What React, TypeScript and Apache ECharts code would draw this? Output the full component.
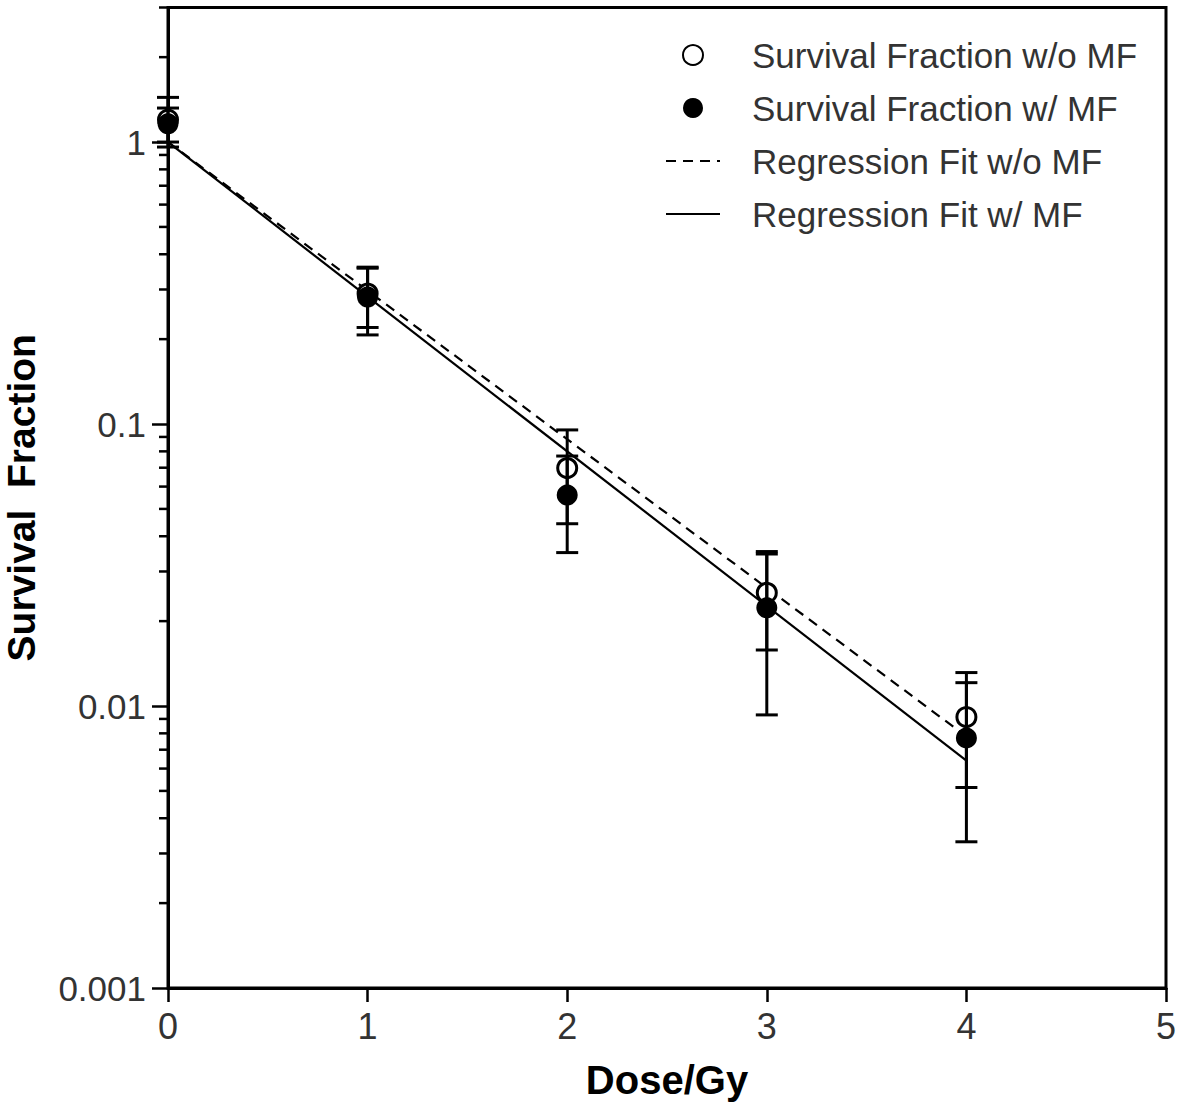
import React, { useEffect, useRef } from "react";
import * as echarts from "echarts";

const dose = [0, 1, 2, 3, 4];
const sfNoMF = [1.2, 0.29, 0.0698, 0.0252, 0.00914];
const errNoMF = [0.24, 0.07, 0.0255, 0.0094, 0.004];
const sfMF = [1.16, 0.282, 0.056, 0.0223, 0.0077];
const errMF = [0.16, 0.075, 0.021, 0.013, 0.0044];
const fitDose = [0, 4];
const fitNoMF = [1.0, 0.0078];
const fitMF = [1.0, 0.0064];
const yMinorTicks = [
  0.002, 0.003, 0.004, 0.005, 0.006, 0.007, 0.008, 0.009,
  0.02, 0.03, 0.04, 0.05, 0.06, 0.07, 0.08, 0.09,
  0.2, 0.3, 0.4, 0.5, 0.6, 0.7, 0.8, 0.9,
  2, 3,
];
const yTickLabels: Record<string, string> = { "-3": "0.001", "-2": "0.01", "-1": "0.1", "0": "1" };
const legendNames = [
  "Survival Fraction w/o MF",
  "Survival Fraction w/ MF",
  "Regression Fit w/o MF",
  "Regression Fit w/ MF",
];

const FONT = "'Liberation Sans', Arial, sans-serif";

function errorBar(params: any, api: any) {
  const x = api.value(0);
  const lo = api.value(1);
  const hi = api.value(2);
  const pLo = api.coord([x, lo]);
  const pHi = api.coord([x, hi]);
  const hw = 11;
  const st = { stroke: "#000", lineWidth: 3 };
  return {
    type: "group",
    children: [
      { type: "line", shape: { x1: pLo[0], y1: pLo[1], x2: pHi[0], y2: pHi[1] }, style: st },
      { type: "line", shape: { x1: pLo[0] - hw, y1: pLo[1], x2: pLo[0] + hw, y2: pLo[1] }, style: st },
      { type: "line", shape: { x1: pHi[0] - hw, y1: pHi[1], x2: pHi[0] + hw, y2: pHi[1] }, style: st },
    ],
  };
}

const hiddenSymbol = { color: "rgba(0,0,0,0)", borderWidth: 0, opacity: 0 };

export default function App() {
  const ref = useRef<HTMLDivElement>(null);
  useEffect(() => {
    document.body.style.margin = "0";
    const chart = echarts.init(ref.current!, null, { renderer: "svg" });
    const option: any = {
      animation: false,
      backgroundColor: "#fff",
      grid: {
        left: 168,
        right: 15,
        top: 7.5,
        bottom: 121,
        show: true,
        borderColor: "#000",
        borderWidth: 3,
        containLabel: false,
        outerBoundsMode: "none",
      },
      legend: {
        data: [
          { name: legendNames[0] },
          { name: legendNames[1] },
          { name: legendNames[2], itemStyle: hiddenSymbol },
          { name: legendNames[3], itemStyle: hiddenSymbol },
        ],
        orient: "vertical",
        left: 660,
        top: 30,
        itemWidth: 54,
        itemHeight: 20,
        itemGap: 13,
        selectedMode: false,
        textStyle: {
          fontFamily: FONT,
          fontSize: 35,
          color: "#333",
          lineHeight: 40,
          padding: [0, 0, 0, 27],
        },
      },
      xAxis: {
        type: "value",
        min: 0,
        max: 5,
        interval: 1,
        name: "Dose/Gy",
        nameLocation: "middle",
        nameGap: 72,
        nameTextStyle: { fontFamily: FONT, fontSize: 40, fontWeight: "bold", color: "#000" },
        axisLine: { show: true, onZero: false, lineStyle: { color: "#000", width: 3 } },
        axisTick: { show: true, length: 14, lineStyle: { color: "#000", width: 2.5 } },
        axisLabel: { fontFamily: FONT, fontSize: 36, color: "#333", margin: 20 },
        splitLine: { show: false },
      },
      yAxis: {
        type: "log",
        logBase: 10,
        min: 0.001,
        max: 3,
        name: "Survival  Fraction",
        nameLocation: "middle",
        nameGap: 127,
        nameTextStyle: { fontFamily: FONT, fontSize: 39, fontWeight: "bold", color: "#000" },
        axisLine: { show: true, lineStyle: { color: "#000", width: 3 } },
        axisTick: { show: true, length: 16, lineStyle: { color: "#000", width: 2.5 } },
        axisLabel: {
          fontFamily: FONT,
          fontSize: 35,
          color: "#333",
          margin: 22,
          showMaxLabel: false,
          formatter: (v: number) => {
            const l = Math.log10(v);
            const r = Math.round(l);
            if (Math.abs(l - r) < 1e-6) return yTickLabels[String(r)] ?? "";
            return "";
          },
        },
        splitLine: { show: false },
      },
      series: [
        {
          name: "Regression Fit w/o MF",
          type: "line",
          data: fitDose.map((d, i) => [d, fitNoMF[i]]),
          symbol: "none",
          lineStyle: { color: "#000", width: 2.2, type: [10, 7] },
          itemStyle: { color: "#000" },
          z: 2,
        },
        {
          name: "Regression Fit w/ MF",
          type: "line",
          data: fitDose.map((d, i) => [d, fitMF[i]]),
          symbol: "none",
          lineStyle: { color: "#000", width: 2.2 },
          itemStyle: { color: "#000" },
          z: 2,
        },
        {
          name: "Survival Fraction w/o MF",
          type: "scatter",
          data: dose.map((d, i) => [d, sfNoMF[i]]),
          symbol: "circle",
          symbolSize: 19,
          itemStyle: { color: "#fff", borderColor: "#000", borderWidth: 3, opacity: 1 },
          z: 3,
        },
        {
          name: "errNoMF",
          type: "custom",
          clip: false,
          renderItem: errorBar,
          data: dose.map((d, i) => [d, sfNoMF[i] - errNoMF[i], sfNoMF[i] + errNoMF[i]]),
          encode: { x: 0, y: [1, 2] },
          z: 4,
        },
        {
          name: "errMF",
          type: "custom",
          clip: false,
          renderItem: errorBar,
          data: dose.map((d, i) => [d, sfMF[i] - errMF[i], sfMF[i] + errMF[i]]),
          encode: { x: 0, y: [1, 2] },
          z: 4,
        },
        {
          name: "Survival Fraction w/ MF",
          type: "scatter",
          data: dose.map((d, i) => [d, sfMF[i]]),
          symbol: "circle",
          symbolSize: 21,
          itemStyle: { color: "#000", opacity: 1 },
          z: 5,
        },
        {
          name: "yMinorTicks",
          type: "custom",
          clip: false,
          silent: true,
          data: yMinorTicks.map((v) => [0, v]),
          encode: { x: 0, y: 1 },
          renderItem: (params: any, api: any) => {
            const p = api.coord([0, api.value(1)]);
            return {
              type: "line",
              shape: { x1: p[0] - 9, y1: p[1], x2: p[0], y2: p[1] },
              style: { stroke: "#000", lineWidth: 2.5 },
            };
          },
          z: 6,
        },
      ],
    };
    chart.setOption(option);
    return () => chart.dispose();
  }, []);
  return <div ref={ref} style={{ width: 1181, height: 1109 }} />;
}
